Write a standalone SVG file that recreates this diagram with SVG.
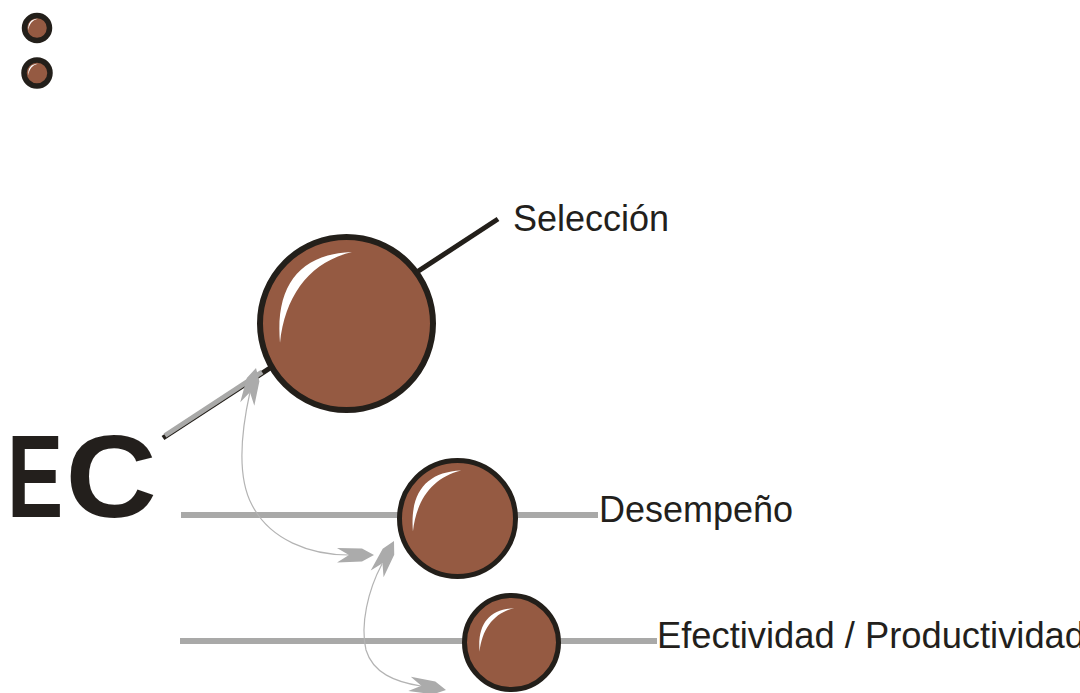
<svg xmlns="http://www.w3.org/2000/svg" xmlns:xlink="http://www.w3.org/1999/xlink" width="1080" height="693" viewBox="0 0 1080 693">
<style>
.ball{fill:#955a42;stroke:#231f1a}
.hl{fill:#ffffff}
.gline{stroke:#a9a9a8;stroke-width:6;fill:none}
.curve{stroke:#b3b3b3;stroke-width:1.2;fill:none}
.ah{fill:#ababab}
.lbl{font-family:"Liberation Sans",Arial,sans-serif;font-size:36px;fill:#231f1c}
.ec{font-family:"Liberation Sans",Arial,sans-serif;font-size:117px;font-weight:bold;fill:#231f1c}
</style>
<defs>
<path id="crescent" d="M5.5,-71.5 C-46.5,-69.5 -71.5,-38.5 -66.5,19.5 C-61.5,-28.5 -36.5,-61.5 5.5,-71.5 Z"/>
<path id="ahead" d="M0,0 L-12,-6.5 L-37,-7 L-25,0 L-37,7.5 L-12,6.5 Z"/>
</defs>
<rect width="1080" height="693" fill="#ffffff"/>

<g id="bullets">
<circle class="ball" cx="37" cy="28" r="12.5" stroke-width="5.5"/>
<use href="#crescent" class="hl" transform="translate(37,28) scale(0.13)"/>
<circle class="ball" cx="37" cy="73" r="13" stroke-width="5.5"/>
<use href="#crescent" class="hl" transform="translate(37,73) scale(0.13)"/>
</g>

<g id="ec-title">
<text class="ec" transform="translate(7,517) scale(0.72,1)">E</text>
<text class="ec" transform="translate(65.5,517) scale(1.08,1)">C</text>
</g>

<g id="connectors">
<line x1="163" y1="438" x2="498" y2="219" stroke="#231f1a" stroke-width="5"/>
<line x1="165" y1="435.5" x2="262" y2="372" stroke="#a9a9a8" stroke-width="5"/>
<line class="gline" x1="181" y1="515" x2="598" y2="515"/>
<line class="gline" x1="180" y1="641" x2="657" y2="641"/>
<path class="curve" d="M250,392 C242,428 236,475 252,505 C270,540 310,555 349,555"/>
<path class="curve" d="M382,564 C368,590 360,625 366,650 C373,673 395,682 421,686"/>
<use href="#ahead" class="ah" transform="translate(256,368) rotate(-76)"/>
<use href="#ahead" class="ah" transform="translate(374,555)"/>
<use href="#ahead" class="ah" transform="translate(394,541) rotate(-62.5)"/>
<use href="#ahead" class="ah" transform="translate(446,690) rotate(10)"/>
</g>

<g id="node-seleccion">
<circle class="ball" cx="346.5" cy="323.5" r="86.5" stroke-width="6"/>
<use href="#crescent" class="hl" transform="translate(346.5,323.5)"/>
<text class="lbl" x="513" y="231">Selección</text>
</g>

<g id="node-desempeno">
<circle class="ball" cx="457.5" cy="518.5" r="58" stroke-width="5"/>
<use href="#crescent" class="hl" transform="translate(457.5,518.5) scale(0.67)"/>
<text class="lbl" x="599" y="522">Desempeño</text>
</g>

<g id="node-efectividad">
<circle class="ball" cx="511.5" cy="642.5" r="47" stroke-width="5"/>
<use href="#crescent" class="hl" transform="translate(511.5,642.5) scale(0.48)"/>
<text class="lbl" x="657" y="648" textLength="428" lengthAdjust="spacingAndGlyphs">Efectividad / Productividad</text>
</g>
</svg>
